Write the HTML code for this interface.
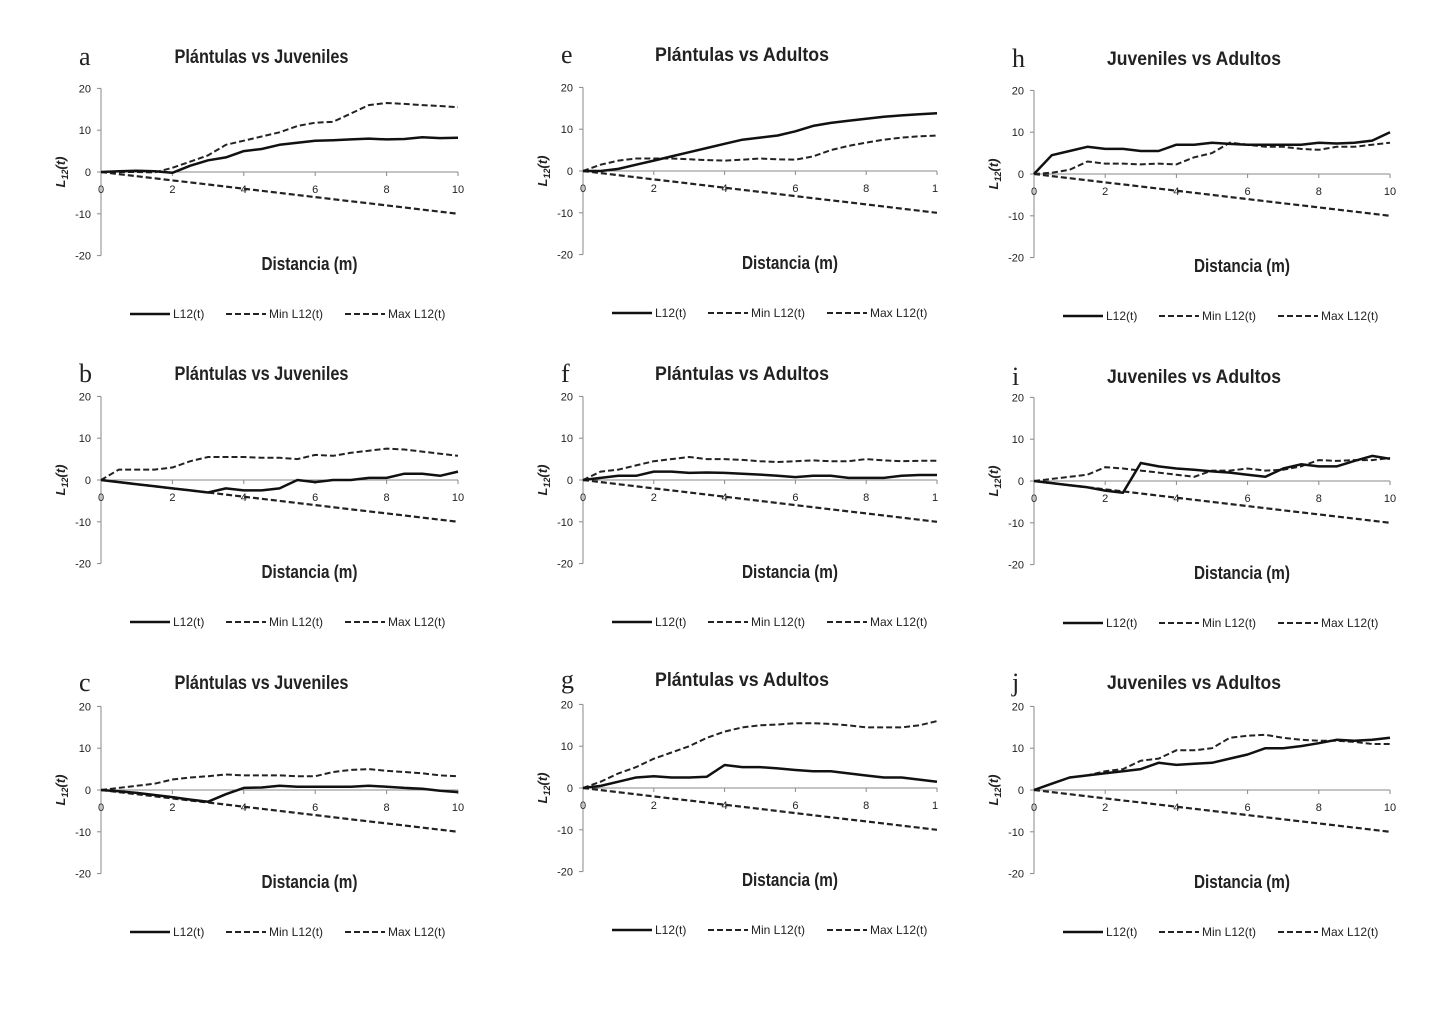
<!DOCTYPE html>
<html><head><meta charset="utf-8"><style>
body{margin:0;background:#fff}
svg{display:block}
text{font-family:"Liberation Sans",sans-serif;fill:#222}
text.letter{font-family:"Liberation Serif",serif}
</style></head><body>
<svg id="c" width="1443" height="1009"></svg>
<script>
const xs=[0,0.5,1,1.5,2,2.5,3,3.5,4,4.5,5,5.5,6,6.5,7,7.5,8,8.5,9,9.5,10];
const yTicks=[20,10,0,-10,-20];
const xTicks=[0,2,4,6,8,10];
const aL=[0,0.2,0.3,0.2,-0.2,1.5,2.8,3.5,5,5.5,6.5,7,7.5,7.6,7.8,8,7.8,7.9,8.3,8.1,8.2];
const aMax=[0,0,0,-0.1,1,2.5,4,6.5,7.5,8.5,9.5,11,11.8,12,14,16,16.5,16.3,16,15.8,15.5];
const eL=[0,0,0.5,1.5,2.5,3.5,4.5,5.5,6.5,7.5,8,8.5,9.5,10.8,11.5,12,12.5,13,13.3,13.6,13.8];
const eMax=[0,1.5,2.5,3,3,3,2.8,2.6,2.5,2.7,3,2.8,2.7,3.5,5,6,6.8,7.5,8,8.3,8.5];
const hL=[0,4.5,5.5,6.5,6,6,5.5,5.5,7,7,7.5,7.2,7,7,7,7,7.5,7.3,7.5,8,10];
const hMax=[0,0.3,1,3,2.5,2.5,2.3,2.5,2.3,4,5,7.5,7,6.5,6.5,6,5.8,6.5,6.5,7,7.5];
const bL=[0,-0.5,-1,-1.5,-2,-2.5,-3,-2,-2.5,-2.5,-2,0,-0.5,0,0,0.5,0.5,1.5,1.5,1,2];
const bMax=[0,2.5,2.5,2.5,3,4.5,5.5,5.5,5.5,5.3,5.3,5,6,5.8,6.5,7,7.5,7.3,6.8,6.3,5.8];
const fL=[0,0.5,1,1,2,2,1.7,1.8,1.7,1.5,1.3,1,0.7,1,1,0.5,0.5,0.5,1,1.2,1.2];
const fMax=[0,2,2.5,3.5,4.5,5,5.5,5,5,4.8,4.5,4.3,4.5,4.7,4.5,4.5,5,4.7,4.5,4.6,4.6];
const iL=[0,-0.5,-1,-1.5,-2.3,-2.8,4.3,3.5,3,2.7,2.3,2,1.5,1,3,4,3.5,3.5,4.8,6,5.3];
const iMax=[0,0.5,1,1.5,3.3,3,2.5,2,1.5,1,2.5,2.5,3,2.5,2.7,3.5,5,4.8,5,5,5.5];
const cL=[0,-0.3,-0.7,-1.2,-1.7,-2.3,-2.8,-1,0.5,0.6,1,0.8,0.8,0.8,0.8,1,0.8,0.5,0.3,-0.2,-0.5];
const cMax=[0,0.5,1,1.5,2.5,3,3.3,3.7,3.5,3.5,3.5,3.3,3.3,4.3,4.8,5,4.6,4.3,4,3.5,3.3];
const gL=[0,0.5,1.5,2.5,2.8,2.5,2.5,2.7,5.5,5,5,4.7,4.3,4,4,3.5,3,2.5,2.5,2,1.5];
const gMax=[0,1.5,3.5,5,7,8.5,10,12,13.5,14.5,15,15.2,15.5,15.5,15.3,15,14.5,14.5,14.5,15,16];
const jL=[0,1.5,3,3.5,4,4.5,5,6.5,6,6.3,6.5,7.5,8.5,10,10,10.5,11.2,12,11.8,12,12.5];
const jMax=[0,1.5,3,3.5,4.5,5,7,7.5,9.5,9.5,10,12.5,13,13.2,12.5,12,11.8,11.8,11.5,11,11];
const minV=xs.map(x=>-x);
const T1="Plántulas vs Juveniles",T2="Plántulas vs Adultos",T3="Juveniles vs Adultos";
const panels=[
 {id:"a",t:T1,x0:101,x1:458,z:172,ty:57,L:aL,M:aMax},
 {id:"b",t:T1,x0:101,x1:458,z:480,ty:374,L:bL,M:bMax},
 {id:"c",t:T1,x0:101,x1:458,z:790,ty:683,L:cL,M:cMax},
 {id:"e",t:T2,x0:583,x1:937,z:171,ty:55,L:eL,M:eMax,cut:true},
 {id:"f",t:T2,x0:583,x1:937,z:480,ty:374,L:fL,M:fMax,cut:true},
 {id:"g",t:T2,x0:583,x1:937,z:788,ty:680,L:gL,M:gMax,cut:true},
 {id:"h",t:T3,x0:1034,x1:1390,z:174,ty:59,L:hL,M:hMax},
 {id:"i",t:T3,x0:1034,x1:1390,z:481,ty:377,L:iL,M:iMax},
 {id:"j",t:T3,x0:1034,x1:1390,z:790,ty:683,L:jL,M:jMax}
];
const S=document.getElementById('c'),NS="http://www.w3.org/2000/svg";
function mk(tag,at,par,txt){const e=document.createElementNS(NS,tag);for(const k in at)e.setAttribute(k,at[k]);if(txt!==undefined)e.textContent=txt;(par||S).appendChild(e);return e;}
panels.forEach(p=>{
 const g=mk('g',{});
 
 
 const sx=v=>p.x0+(p.x1-p.x0)*v/10, sy=v=>p.z-v*4.18;
 const lt=mk('text',{class:'letter',x:p.x0-22,y:p.ty+8,'font-size':26},g,p.id);
 
 
 const ti=mk('text',{x:(p.x0+p.x1)/2-18,y:p.ty+6,'font-size':19,'font-weight':'bold','text-anchor':'middle',textLength:174,lengthAdjust:'spacingAndGlyphs'},g,p.t);
 
 
 mk('line',{x1:p.x0,x2:p.x0,y1:sy(20),y2:sy(-20),stroke:'#888','stroke-width':1},g);
 mk('line',{x1:p.x0,x2:p.x1,y1:p.z,y2:p.z,stroke:'#888','stroke-width':1},g);
 yTicks.forEach(v=>{
  mk('line',{x1:p.x0-4,x2:p.x0,y1:sy(v),y2:sy(v),stroke:'#888'},g);
  const t=mk('text',{x:p.x0-10,y:sy(v)+4,'font-size':11,'text-anchor':'end'},g,v);
  
  
 });
 xTicks.forEach(v=>{
  mk('line',{x1:sx(v),x2:sx(v),y1:p.z,y2:p.z+4,stroke:'#888'},g);
  const lab=(p.cut&&v==10)?'1':v;
  const t=mk('text',{x:(p.cut&&v==10)?sx(v)-2:sx(v),y:p.z+21,'font-size':11,'text-anchor':'middle'},g,lab);
  
  
 });
 const yt=mk('text',{transform:`translate(${p.x0-36},${p.z}) rotate(-90)`,'font-size':13,'font-weight':'bold','font-style':'italic','text-anchor':'middle'},g,'L');
 mk('tspan',{'font-size':9,dy:3},yt,'12');
 mk('tspan',{dy:-3},yt,'(t)');
 
 
 const xt=mk('text',{x:(p.x0+p.x1)/2+30,y:p.z+98,'font-size':18,'font-weight':'bold','text-anchor':'middle',textLength:96,lengthAdjust:'spacingAndGlyphs'},g,'Distancia (m)');
 
 
 const path=arr=>arr.map((v,i)=>(i?'L':'M')+sx(xs[i]).toFixed(1)+','+sy(v).toFixed(1)).join('');
 const mn=mk('path',{d:path(minV),fill:'none',stroke:'#222','stroke-width':2.2,'stroke-dasharray':'6,3'},g);
 
 
 const mx=mk('path',{d:path(p.M),fill:'none',stroke:'#222','stroke-width':2,'stroke-dasharray':'6,3'},g);
 
 
 const l=mk('path',{d:path(p.L),fill:'none',stroke:'#111','stroke-width':2.5,'stroke-linejoin':'round'},g);
 
 
 const ly=p.z+142;
 const lg=mk('g',{},g);
 
 
 const b=p.x0+29;
 mk('line',{x1:b,x2:b+40,y1:ly,y2:ly,stroke:'#111','stroke-width':2.5},lg);
 mk('text',{x:b+43,y:ly+4,'font-size':12},lg,'L12(t)');
 mk('line',{x1:b+96,x2:b+136,y1:ly,y2:ly,stroke:'#222','stroke-width':2,'stroke-dasharray':'6,3'},lg);
 mk('text',{x:b+139,y:ly+4,'font-size':12},lg,'Min L12(t)');
 mk('line',{x1:b+215,x2:b+255,y1:ly,y2:ly,stroke:'#222','stroke-width':2,'stroke-dasharray':'6,3'},lg);
 mk('text',{x:b+258,y:ly+4,'font-size':12},lg,'Max L12(t)');
});
</script>
</body></html>
